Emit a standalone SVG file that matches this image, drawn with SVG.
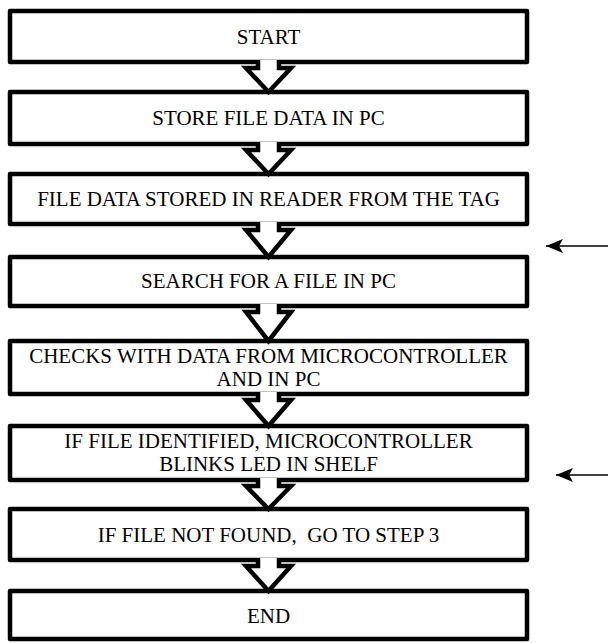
<svg xmlns="http://www.w3.org/2000/svg" width="608" height="643" viewBox="0 0 608 643">
<style>
.box{fill:#fff;stroke:#000;stroke-width:4.5;stroke-linejoin:round}
.t{font-family:"Liberation Serif","Times New Roman",serif;font-size:21px;fill:#000;text-anchor:middle;white-space:pre}
.blk{fill:#fff;stroke:#000;stroke-width:4.5;stroke-linejoin:miter}
.ln{stroke:#000;stroke-width:1.5;fill:none}
</style>
<defs>
<marker id="ah" markerWidth="18" markerHeight="14" refX="17" refY="7" orient="auto" markerUnits="userSpaceOnUse">
<path d="M0,0 L17,7 L0,14 L4,7 Z" fill="#000"/>
</marker>
</defs>
<g id="n1"><rect class="box" x="10" y="11" width="517" height="51"/><text class="t" x="268.5" y="44">START</text></g>
<g id="n2"><rect class="box" x="10" y="92" width="517" height="52"/><text class="t" x="268.5" y="125">STORE FILE DATA IN PC</text></g>
<g id="n3"><rect class="box" x="10" y="174" width="517" height="50"/><text class="t" x="268.5" y="206">FILE DATA STORED IN READER FROM THE TAG</text></g>
<g id="n4"><rect class="box" x="10" y="257" width="517" height="49"/><text class="t" x="268.5" y="288">SEARCH FOR A FILE IN PC</text></g>
<g id="n5"><rect class="box" x="10" y="341" width="517" height="53"/><text class="t" x="268.5" y="363">CHECKS WITH DATA FROM MICROCONTROLLER</text><text class="t" x="268.5" y="386">AND IN PC</text></g>
<g id="n6"><rect class="box" x="10" y="426" width="517" height="54"/><text class="t" x="268.5" y="448">IF FILE IDENTIFIED, MICROCONTROLLER</text><text class="t" x="268.5" y="471">BLINKS LED IN SHELF</text></g>
<g id="n7"><rect class="box" x="10" y="509" width="517" height="51"/><text class="t" x="268.5" y="542">IF FILE NOT FOUND,  GO TO STEP 3</text></g>
<g id="n8"><rect class="box" x="10" y="591" width="517" height="48"/><text class="t" x="268.5" y="623">END</text></g>
<g id="connectors">
<path class="blk" d="M258,60 V68 H246 L268.5,92 L291,68 H279 V60"/>
<path class="blk" d="M258,142 V150 H246 L268.5,174 L291,150 H279 V142"/>
<path class="blk" d="M258,222 V230 H246 L268.5,257 L291,230 H279 V222"/>
<path class="blk" d="M258,304 V312 H246 L268.5,341 L291,312 H279 V304"/>
<path class="blk" d="M258,392 V400 H246 L268.5,426 L291,400 H279 V392"/>
<path class="blk" d="M258,478 V486 H246 L268.5,509 L291,486 H279 V478"/>
<path class="blk" d="M258,558 V566 H246 L268.5,591 L291,566 H279 V558"/>
<line class="ln" x1="608" y1="246" x2="546" y2="246" marker-end="url(#ah)"/>
<line class="ln" x1="608" y1="475" x2="556" y2="475" marker-end="url(#ah)"/>
</g>
</svg>
